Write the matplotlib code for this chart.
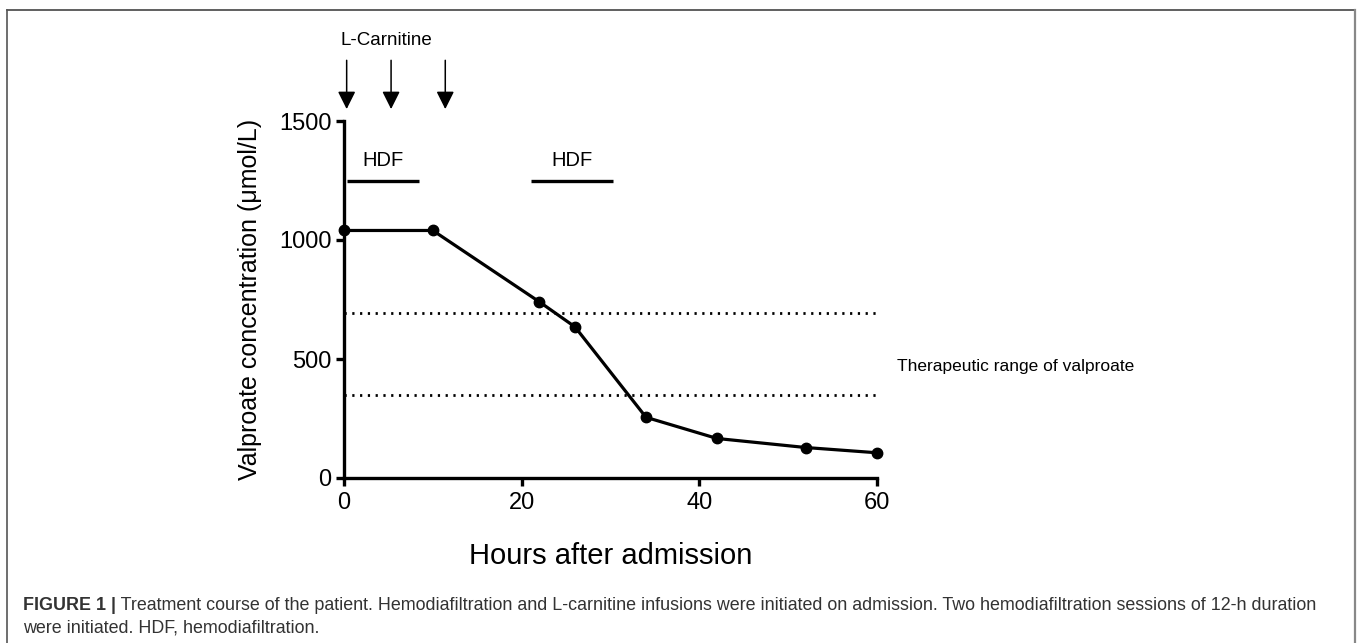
import matplotlib
matplotlib.use("Agg")
import matplotlib.pyplot as plt
from matplotlib.lines import Line2D

plt.rcParams['font.family'] = ['Liberation Sans', 'DejaVu Sans']

# ---- data ----
hours = [0, 10, 22, 26, 34, 42, 52, 60]
valproate = [1040, 1040, 740, 635, 255, 166, 128, 106]
therapeutic_low = 347
therapeutic_high = 693
range_start, range_end = 0, 60
hdf_sessions = [(0.3, 8.4), (21.0, 30.3)]
hdf_level = 1250
carnitine_times = [0.3, 5.3, 11.4]
x_ticks = [0, 20, 40, 60]
y_ticks = [0, 500, 1000, 1500]
caption_bold = "FIGURE 1 |"
caption_line1 = (" Treatment course of the patient. Hemodiafiltration and L-carnitine infusions were "
                 "initiated on admission. Two hemodiafiltration sessions of 12-h duration")
caption_line2 = "were initiated. HDF, hemodiafiltration."

W, H = 1357, 643
fig = plt.figure(figsize=(W / 100, H / 100), dpi=100)
fig.patch.set_facecolor('white')

# frame around figure
def px(x, y):
    return x / W, 1 - y / H
for (x0, y0, x1, y1, c, lw) in [(7, 10, 1355, 10, '#444444', 1.2),
                                (7, 10, 7, 643, '#555555', 1.2),
                                (1355, 10, 1355, 643, '#888888', 1.6)]:
    a, b = px(x0, y0)
    c2, d = px(x1, y1)
    fig.add_artist(Line2D([a, c2], [b, d], transform=fig.transFigure, color=c, lw=lw))

ax = fig.add_axes([344 / W, 1 - 478 / H, (877 - 344) / W, (478 - 121) / H])
ax.set_xlim(0, 60)
ax.set_ylim(0, 1500)
for s in ['top', 'right']:
    ax.spines[s].set_visible(False)
for s in ['left', 'bottom']:
    ax.spines[s].set_linewidth(2.4)
ax.tick_params(axis='both', width=2.4, length=6, labelsize=17, direction='out', pad=3)
ax.tick_params(axis='x', pad=4)
ax.set_xticks(x_ticks)
ax.set_yticks(y_ticks)
ax.patch.set_alpha(0)

ax.plot(hours, valproate, color='black', lw=2.3, marker='o', markersize=7.5, clip_on=False, zorder=5)

for lvl in (therapeutic_low, therapeutic_high):
    ax.hlines(lvl, range_start, range_end, colors='black', lw=2.0,
              linestyles=[(0, (0.8, 2.0))])

ax.text(62.2, 470, "Therapeutic range of valproate", fontsize=12.5, va='center', ha='left')

for (s, e) in hdf_sessions:
    ax.plot([s, e], [hdf_level, hdf_level], color='black', lw=2.4, solid_capstyle='butt')
    ax.text((s + e) / 2, 1332, "HDF", fontsize=14.5, ha='center', va='center')

for t in carnitine_times:
    ax.annotate('', xy=(t, 1550), xytext=(t, 1755), annotation_clip=False,
                arrowprops=dict(arrowstyle='-|>,head_length=0.6,head_width=0.3',
                                mutation_scale=18, lw=1.1, color='black',
                                shrinkA=0, shrinkB=0))
ax.text(4.8, 1840, "L-Carnitine", fontsize=13.5, ha='center', va='center', clip_on=False)

ax.set_xlabel("Hours after admission", fontsize=21, labelpad=20)
ax.set_ylabel("Valproate concentration (\u03bcmol/L)", fontsize=18, labelpad=12)

# caption
cap_color = '#333333'
cap_size = 12.9
t1 = fig.text(23 / W, 1 - 605 / H, caption_bold, fontsize=cap_size, fontweight='bold',
              color=cap_color, va='center', ha='left')
fig.canvas.draw()
ax.annotate(caption_line1, xy=(1, 0), xycoords=t1, va='bottom', ha='left',
            fontsize=cap_size, color=cap_color, annotation_clip=False)
fig.text(23 / W, 1 - 628 / H, caption_line2, fontsize=cap_size, color=cap_color,
         va='center', ha='left')

fig.savefig('out.png', dpi=100)
